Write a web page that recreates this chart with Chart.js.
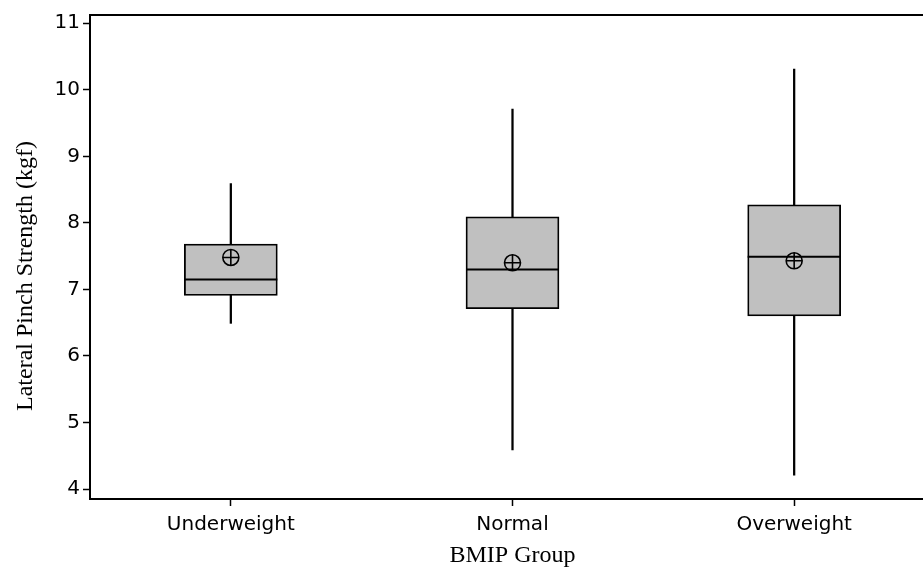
<!DOCTYPE html>
<html>
<head>
<meta charset="utf-8">
<script src="https://cdn.jsdelivr.net/npm/chart.js@4.4.1/dist/chart.umd.min.js"></script>
<style>
  html, body { margin: 0; padding: 0; background: #fff; overflow: hidden; }
  #wrap { width: 923px; height: 574px; overflow: hidden; }
</style>
</head>
<body>
<div id="wrap"><canvas id="grafico" width="937" height="574"></canvas></div>
<script>
// Datos
const categorias = ['Underweight', 'Normal', 'Overweight'];
const minimos = [6.49, 4.59, 4.21];
const q1 = [6.91, 6.71, 6.60];
const medianas = [7.15, 7.30, 7.49];
const q3 = [7.68, 8.09, 8.27];
const maximos = [8.59, 9.71, 10.31];
const medias = [7.48, 7.40, 7.43];
const ticksY = [4, 5, 6, 7, 8, 9, 10, 11];

const tituloY = 'Lateral Pinch Strength (kgf)';
const tituloX = 'BMIP Group';

// marco del area (la linea superior) + titulo Y
const marco = {
    id: 'marco',
    afterDraw(chart) {
        const { ctx, chartArea: a } = chart;
        ctx.save();
        ctx.strokeStyle = '#000';
        ctx.lineWidth = 2;
        ctx.strokeRect(a.left, a.top, a.right - a.left, a.bottom - a.top);
        ctx.translate(26, 276);
        ctx.rotate(-Math.PI / 2);
        ctx.fillStyle = '#000';
        ctx.font = '24px "Liberation Serif", "Times New Roman", serif';
        ctx.textAlign = 'center';
        ctx.textBaseline = 'middle';
        ctx.fillText(tituloY, 0, 0);
        ctx.restore();
    }
};

const ctx = document.getElementById('grafico').getContext('2d');
new Chart(ctx, {
    data: {
        labels: categorias,
        datasets: [
            {
                type: 'line',
                label: 'Media',
                data: medias,
                showLine: false,
                pointStyle: 'circle',
                pointRadius: 8,
                pointBackgroundColor: 'rgba(0,0,0,0)',
                pointBorderColor: '#000',
                pointBorderWidth: 1.6,
                order: 0
            },
            {
                type: 'line',
                label: 'Media cruz',
                data: medias,
                showLine: false,
                pointStyle: 'cross',
                pointRadius: 8,
                pointBorderColor: '#000',
                pointBorderWidth: 1.6,
                order: 1
            },
            {
                type: 'line',
                label: 'Mediana',
                data: medianas,
                showLine: false,
                pointStyle: 'line',
                pointRadius: 46.5,
                pointBorderColor: '#000',
                pointBorderWidth: 2,
                order: 2
            },
            {
                type: 'bar',
                label: 'Caja',
                data: q1.map((v, i) => [v, q3[i]]),
                backgroundColor: '#c0c0c0',
                borderColor: '#000',
                borderWidth: 1.8,
                borderSkipped: false,
                barThickness: 93,
                grouped: false,
                order: 3
            },
            {
                type: 'bar',
                label: 'Bigotes',
                data: minimos.map((v, i) => [v, maximos[i]]),
                backgroundColor: '#000',
                barThickness: 1.6,
                grouped: false,
                order: 4
            }
        ]
    },
    options: {
        responsive: false,
        animation: false,
        layout: { autoPadding: false, padding: { top: 10, right: 2, left: 0, bottom: 0 } },
        plugins: {
            legend: { display: false },
            tooltip: { enabled: false }
        },
        scales: {
            x: {
                type: 'category',
                offset: true,
                border: { color: '#000', width: 2 },
                grid: { offset: false, drawOnChartArea: false, tickLength: 7, tickColor: '#000', tickWidth: 1.5 },
                ticks: { color: '#000', padding: 7, font: { family: '"DejaVu Sans", Verdana, sans-serif', size: 20 } },
                title: {
                    display: true,
                    text: tituloX,
                    color: '#000',
                    padding: { top: 0, bottom: 4 },
                    font: { family: '"Liberation Serif", "Times New Roman", serif', size: 24 }
                },
                afterFit: s => { s.height = 75; }
            },
            y: {
                min: 3.851,
                max: 11.123,
                border: { color: '#000', width: 2 },
                grid: { drawOnChartArea: false, tickLength: 7, tickColor: '#000', tickWidth: 1.5 },
                ticks: { color: '#000', padding: 3, font: { family: '"DejaVu Sans", Verdana, sans-serif', size: 20 } },
                afterBuildTicks: s => { s.ticks = ticksY.map(v => ({ value: v })); },
                afterFit: s => { s.width = 90; }
            }
        }
    },
    plugins: [marco]
});
</script>
</body>
</html>
